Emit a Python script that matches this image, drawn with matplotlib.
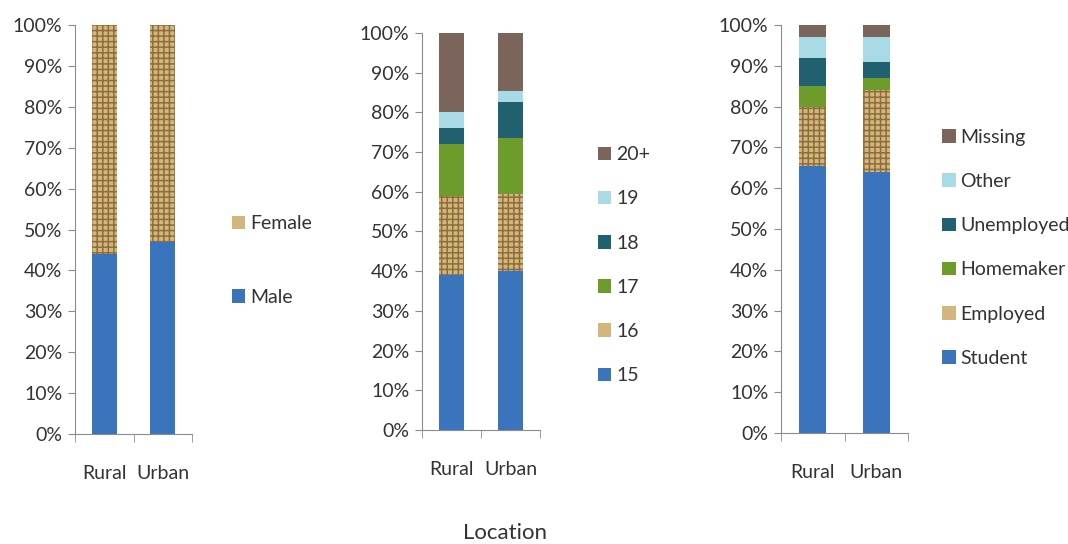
import matplotlib.pyplot as plt
from matplotlib.patches import Patch

plt.rcParams["font.family"] = ["Lato", "DejaVu Sans"]
plt.rcParams["hatch.linewidth"] = 1.1

# =========================================================
# DATA
# =========================================================
locations = ["Rural", "Urban"]

sex_labels = ["Male", "Female"]
male = [44, 47]
female = [56, 53]

age_labels = ["15", "16", "17", "18", "19", "20+"]
age_15 = [39, 40]
age_16 = [20, 19.5]
age_17 = [13, 14]
age_18 = [4, 9]
age_19 = [4, 3]
age_20 = [20, 14.5]

occ_labels = ["Student", "Employed", "Homemaker", "Unemployed", "Other", "Missing"]
student = [65.5, 64]
employed = [14.5, 20]
homemaker = [5, 3]
unemployed = [7, 4]
other = [5, 6]
missing = [3, 3]

# =========================================================
# STYLES
# =========================================================
BLUE = "#3a74bd"
TAN = dict(color="#d3b67c", hatch="+++", edgecolor="#8e6d3c")
GREEN = "#6d9c2c"
TEAL = "#21606e"
CYAN = "#a9dbe7"
BROWN = "#7b645a"
SPINE = "#8c8c8c"
TEXT = "#333333"

STYLE_1 = [dict(color=BLUE), TAN]
STYLE_2 = [dict(color=BLUE), TAN, dict(color=GREEN), dict(color=TEAL),
           dict(color=CYAN), dict(color=BROWN)]
STYLE_3 = STYLE_2


def stacked(ax, series, labels, styles, legend_anchor, spacing):
    x = range(len(locations))
    bottom = [0] * len(locations)
    handles = []
    for vals, lab, st in zip(series, labels, styles):
        kw = dict(st)
        ax.bar(x, vals, 0.42, bottom=bottom, linewidth=0, **kw)
        handles.append(Patch(linewidth=0, label=lab, **kw))
        bottom = [b + v for b, v in zip(bottom, vals)]

    ax.set_xlim(-0.5, 1.5)
    ax.set_ylim(0, 100)
    ax.set_yticks(range(0, 101, 10))
    ax.set_yticklabels([f"{v}%" for v in range(0, 101, 10)])
    ax.set_xticks([0, 1])
    ax.set_xticklabels(locations)
    ax.set_xticks([-0.5, 0.5, 1.5], minor=True)
    ax.tick_params(axis="x", which="major", length=0, pad=22,
                   labelsize=14, colors=TEXT)
    ax.tick_params(axis="x", which="minor", length=6, color=SPINE)
    ax.tick_params(axis="y", length=5, color=SPINE, labelsize=14,
                   labelcolor=TEXT, pad=4)
    for s in ["top", "right"]:
        ax.spines[s].set_visible(False)
    for s in ["left", "bottom"]:
        ax.spines[s].set_color(SPINE)

    leg = ax.legend(handles[::-1], labels[::-1], loc="center left",
                    bbox_to_anchor=legend_anchor, frameon=False,
                    fontsize=14, handlelength=0.7, handleheight=0.7,
                    handletextpad=0.25, labelspacing=spacing)
    for t in leg.get_texts():
        t.set_color(TEXT)


def main():
    fig = plt.figure(figsize=(10.68, 5.44), dpi=100)

    ax1 = fig.add_axes([0.0702, 0.2022, 0.1096, 0.7518])
    ax2 = fig.add_axes([0.3951, 0.2096, 0.1105, 0.7298])
    ax3 = fig.add_axes([0.7313, 0.2040, 0.1189, 0.7500])

    stacked(ax1, [male, female], sex_labels, STYLE_1, (1.19, 0.424), 2.9)
    stacked(ax2, [age_15, age_16, age_17, age_18, age_19, age_20],
            age_labels, STYLE_2, (1.34, 0.415), 1.4)
    stacked(ax3, [student, employed, homemaker, unemployed, other, missing],
            occ_labels, STYLE_3, (1.13, 0.454), 1.4)

    fig.text(505 / 1068, 1 - 533 / 544, "Location", ha="center", va="center",
             fontsize=16, color=TEXT)

    fig.savefig("out.png", dpi=100)
    plt.close(fig)


if __name__ == "__main__":
    main()
